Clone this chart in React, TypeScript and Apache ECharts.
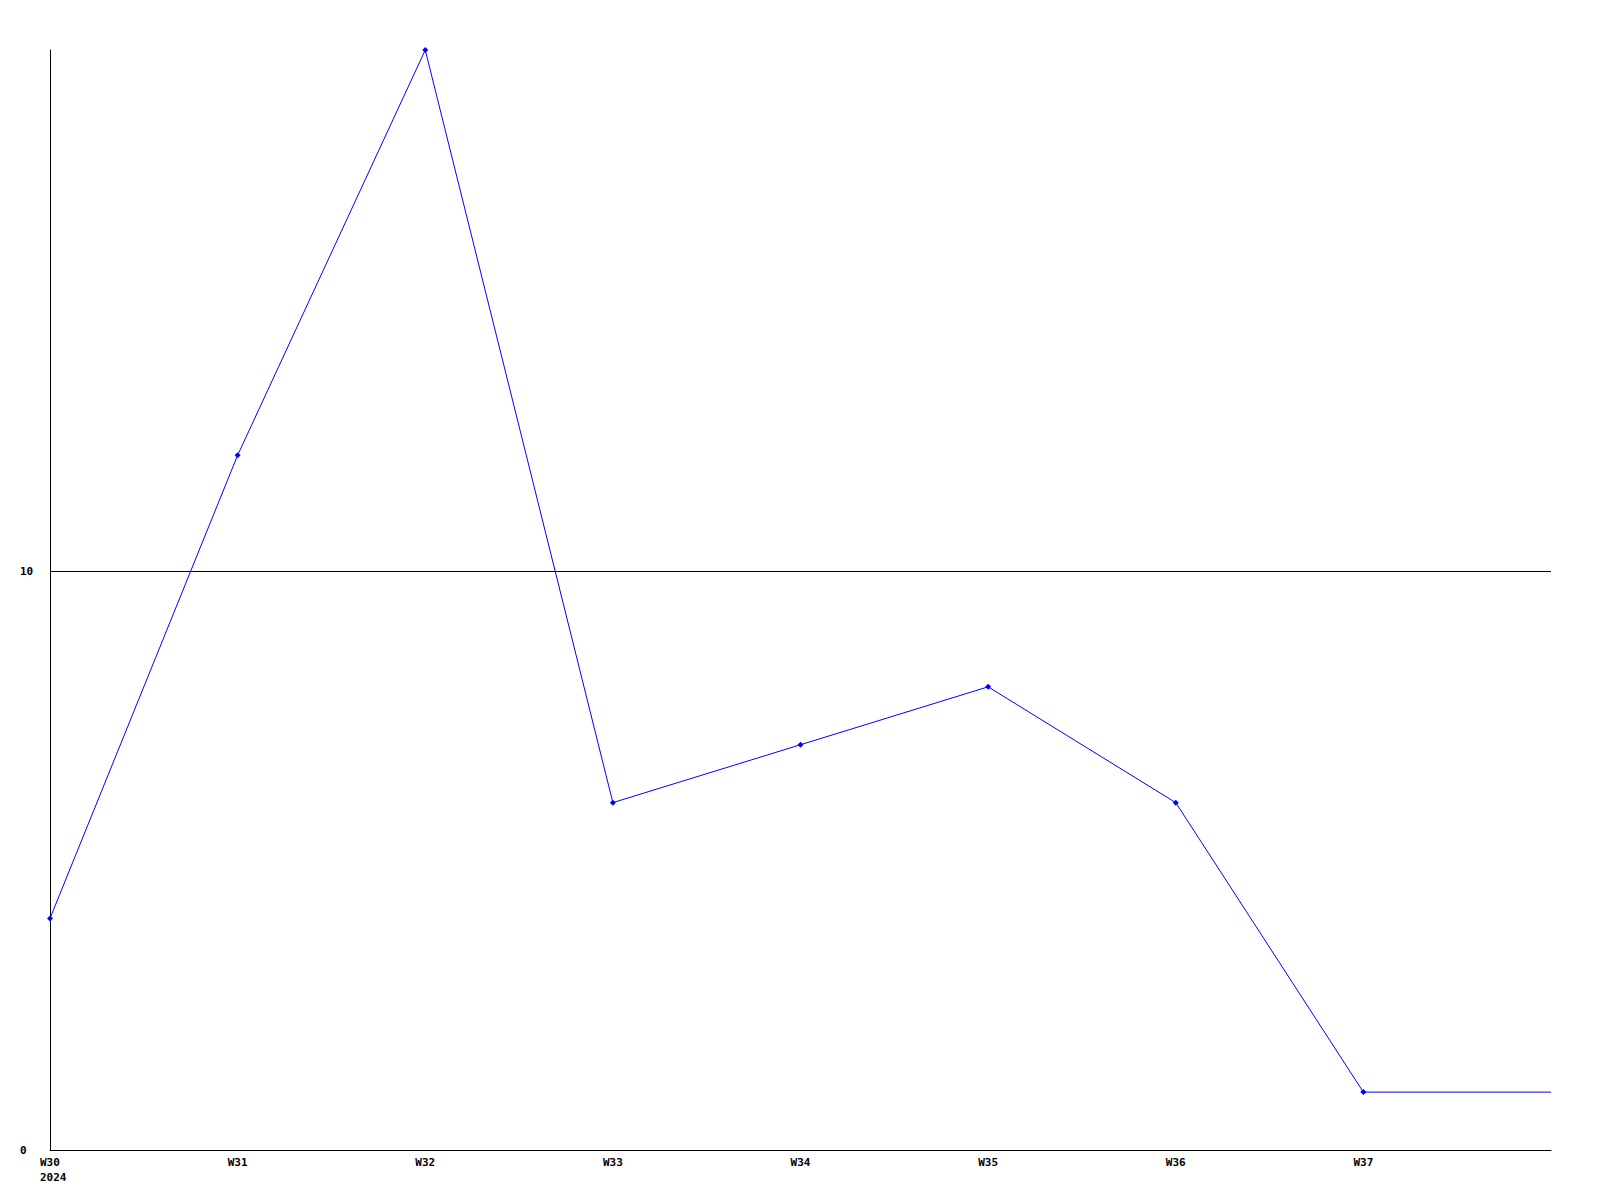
import React, { useEffect, useRef } from "react";
import * as echarts from "echarts";

const weeks = ["W30", "W31", "W32", "W33", "W34", "W35", "W36", "W37", ""];
const yearLabel = "2024";
const values = [4, 12, 19, 6, 7, 8, 6, 1, 1];
const gridLines = [10];
const yMax = 19;

export default function App() {
  const ref = useRef<HTMLDivElement>(null);
  useEffect(() => {
    if (!ref.current) return;
    const chart = echarts.init(ref.current, undefined, { renderer: "svg" });
    const font = "'DejaVu Sans Mono', monospace";
    const txt = {
      color: "#000",
      fontFamily: font,
      fontWeight: "bold",
      fontSize: 11,
      lineHeight: 15,
    };
    chart.setOption({
      animation: false,
      backgroundColor: "#ffffff",
      grid: { left: 50, right: 49, top: 50, bottom: 50, containLabel: false },
      xAxis: {
        type: "category",
        data: weeks,
        boundaryGap: false,
        axisLine: { show: true, lineStyle: { color: "#000", width: 1 } },
        axisTick: { show: false },
        splitLine: { show: false },
        axisLabel: {
          ...txt,
          margin: 5,
          interval: 0,
          formatter: (v: string, i: number) =>
            i === 0 ? "{a|" + v + "}\n{b|" + yearLabel + "}" : v,
          rich: {
            a: { ...txt, align: "left" },
            b: { ...txt, width: 20, align: "left" },
          },
        },
      },
      yAxis: {
        type: "value",
        min: 0,
        max: yMax,
        interval: 10,
        axisLine: { show: true, lineStyle: { color: "#000", width: 1 } },
        axisTick: { show: false },
        splitLine: { show: false },
        axisLabel: {
          ...txt,
          align: "left",
          margin: 30,
          formatter: (v: number) => (v % 10 === 0 ? String(v) : ""),
        },
      },
      series: [
        {
          type: "line",
          data: values.map((v, i) =>
            i === values.length - 1 ? { value: v, symbol: "none" } : v
          ),
          symbol: "diamond",
          symbolSize: 6,
          showSymbol: true,
          lineStyle: { color: "#0000ff", width: 1 },
          itemStyle: { color: "#0000ff" },
          markLine: {
            silent: true,
            symbol: "none",
            label: { show: false },
            lineStyle: { color: "#000", width: 1, type: "solid" },
            data: gridLines.map((g) => ({ yAxis: g })),
          },
        },
      ],
    });
    return () => chart.dispose();
  }, []);
  return (
    <div
      ref={ref}
      style={{ position: "fixed", left: 0, top: 0, width: 1600, height: 1200 }}
    />
  );
}
